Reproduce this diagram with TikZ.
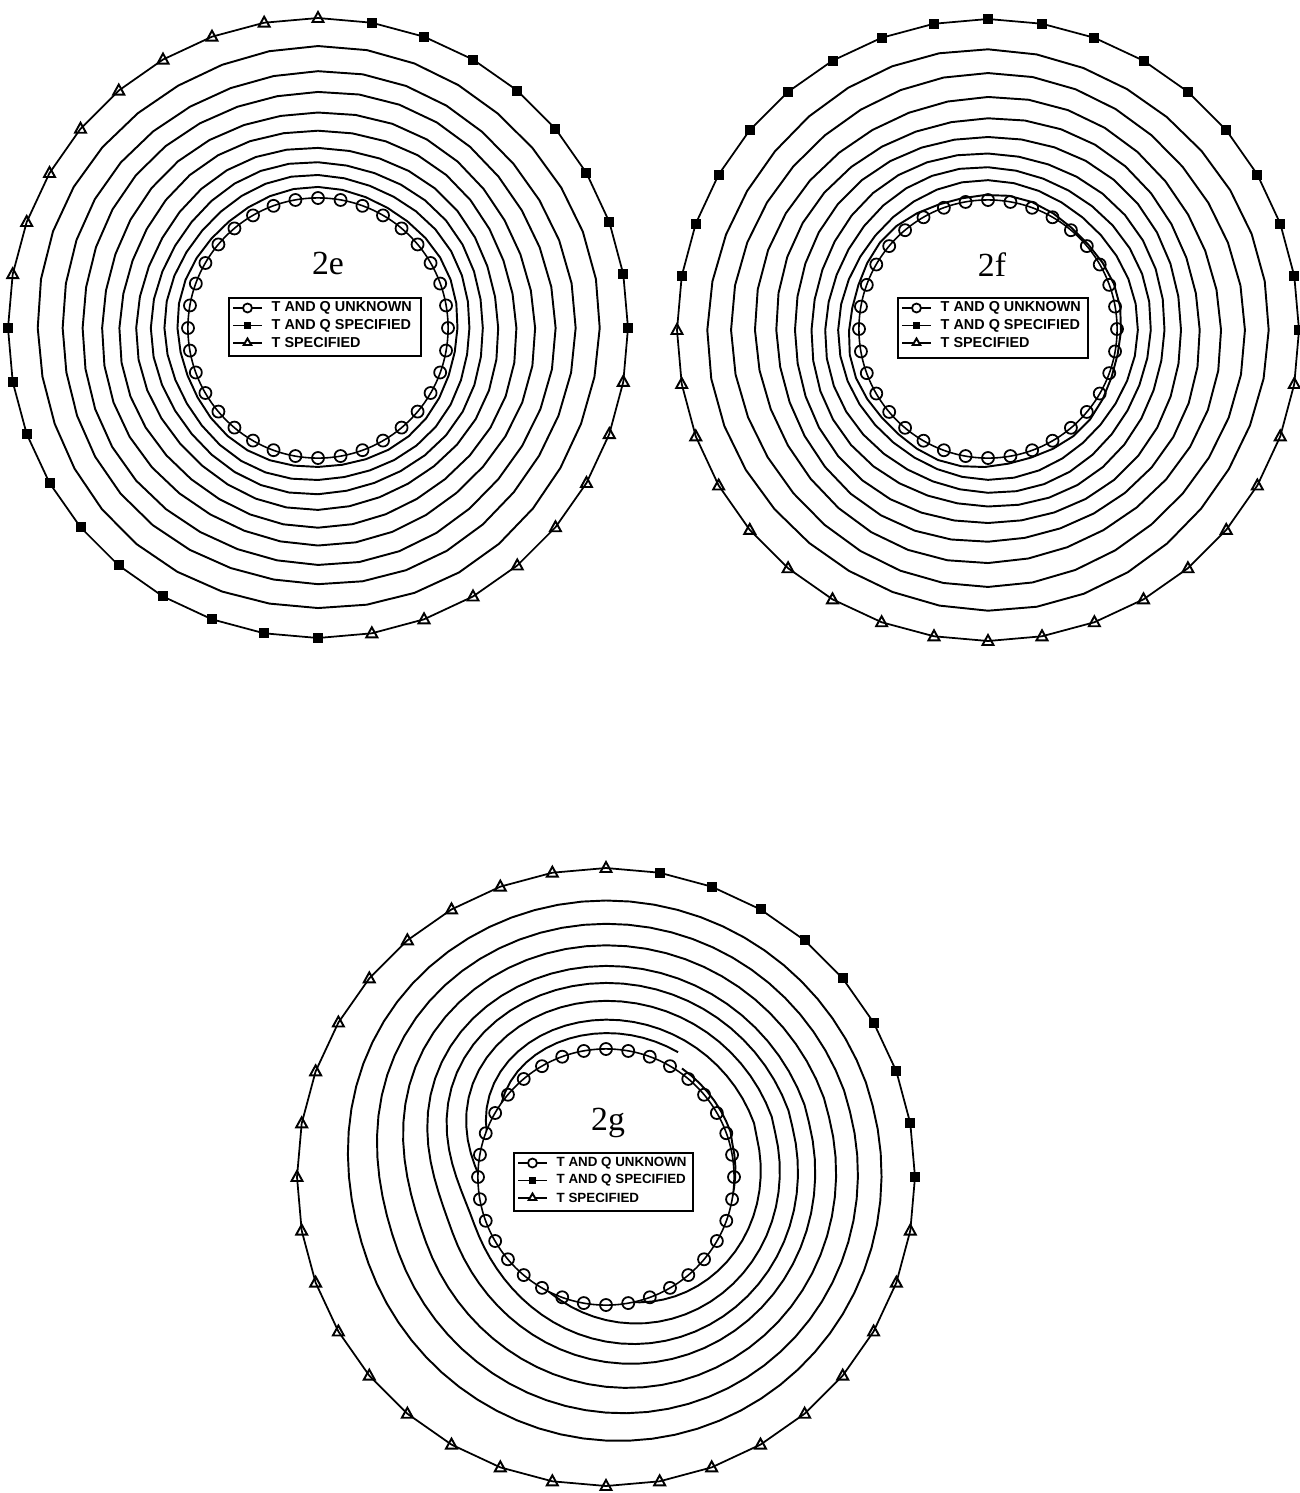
\documentclass[tikz,border=0pt]{standalone}
\usepackage{fontspec}
\setmainfont{Liberation Serif}
\newfontfamily\legfont{Liberation Sans}
\usetikzlibrary{calc}
\newcommand\mylegend[6]{% prefix, x, y, width(cm), height(cm), font size(pt)
  \node[legbox, minimum width=#4cm, minimum height=#5cm, anchor=north west] (#1box) at (#2,#3) {};
  \draw[legline] ($(#1box.north west)+(5,11)$) -- ++(29,0);
  \draw[cirmark, fill=white] ($(#1box.north west)+(19.5,11)$) circle[radius=0.045cm];
  \node[legtext, font=\legfont\bfseries\fontsize{#6}{5}\selectfont] (#1ta) at ($(#1box.north west)+(43,11)$) {T AND Q UNKNOWN};
  \draw[legline] ($(#1box.north west)+(5,28.5)$) -- ++(29,0);
  \fill ($(#1box.north west)+(16,25)$) rectangle ++(7,7);
  \node[legtext, font=\legfont\bfseries\fontsize{#6}{5}\selectfont] (#1tb) at ($(#1box.north west)+(43,28.5)$) {T AND Q SPECIFIED};
  \draw[legline] ($(#1box.north west)+(5,46)$) -- ++(29,0);
  \draw[trimark, fill=white] ($(#1box.north west)+(19.5,41.5)$) -- ++(3.8,6.5) -- ++(-7.6,0) -- cycle;
  \node[legtext, font=\legfont\bfseries\fontsize{#6}{5}\selectfont] (#1tc) at ($(#1box.north west)+(43,46)$) {T SPECIFIED};
}
\begin{document}
\begin{tikzpicture}[x=0.01cm,y=-0.01cm,
  contour/.style={line width=0.55pt, line join=round},
  outerb/.style={line width=0.5pt, line join=round},
  innerb/.style={line width=0.45pt},
  trimark/.style={line width=0.55pt, line join=miter},
  cirmark/.style={line width=0.5pt},
  legline/.style={line width=0.5pt},
  legbox/.style={draw, line width=0.65pt, inner sep=0pt},
  legtext/.style={inner sep=0pt, anchor=west},
  figlabel/.style={font=\fontsize{9.6}{11}\selectfont, inner sep=0pt},
  declare function={
    gd(\t)=mod(\t+340,360)-180;
    gs(\t)=45+45*(gd(\t)>0);
    gw(\t)=exp(-(gd(\t)/gs(\t))*(gd(\t)/gs(\t)));
    gr(\a,\t)=128+179*(\a-(0.44-0.37*\a)*gw(\t));
  }]
\fill[white] (0,0) rectangle (1299,1493);
\useasboundingbox (0,0) rectangle (1299,1493);

% ================= 2e =================
\foreach \r [count=\i] in {281,256.5,236.5,216.5,198.5,181,166,152.5,140}
  \draw[contour] plot[domain=0:360, samples=37]
    ({318+(\r+1.2*sin(5*\x+37*\i))*cos(\x)},{328-(\r+1.2*sin(5*\x+37*\i))*sin(\x)}) -- cycle;
\draw[outerb] plot[domain=0:360, samples=37] ({318+310*cos(\x)},{328-310*sin(\x)}) -- cycle;
\draw[innerb] (318,328) circle[radius=1.30cm];
\foreach \t in {0,10,...,350}
  \draw[cirmark] ({318+130*cos(\t)},{328-130*sin(\t)}) circle[radius=0.06cm];
\foreach \t in {0,10,...,80,180,190,...,270}
  \fill ({318+310*cos(\t)},{328-310*sin(\t)}) ++(-5,-5) rectangle ++(10,10);
\foreach \t in {90,100,...,170,280,290,...,350}
  \draw[trimark] ({318+310*cos(\t)},{328-310*sin(\t)}) ++(0,-6) -- ++(5.5,10) -- ++(-11,0) -- cycle;
\node[figlabel] (lab2e) at (328,263) {2e};
\mylegend{e}{228}{297}{1.92}{0.58}{4.1}

% ================= 2f =================
\foreach \r [count=\i] in {279.5,255.5,232.5,212.5,194.5,177.5,162.5,148.5}
  \draw[contour] plot[domain=0:360, samples=37]
    ({988+(\r+1.5*sin(4*\x+53*\i))*cos(\x)},{330-(\r+1.5*sin(4*\x+53*\i))*sin(\x)}) -- cycle;
\draw[contour] plot[domain=0:360, samples=37]
    ({985+(136+1.5*sin(6*\x))*cos(\x)},{331-(136+1.5*sin(6*\x))*sin(\x)}) -- cycle;
\draw[outerb] plot[domain=0:360, samples=37] ({988+311*cos(\x)},{330-311*sin(\x)}) -- cycle;
\draw[innerb] (988,329) circle[radius=1.29cm];
\foreach \t in {0,10,...,350}
  \draw[cirmark] ({988+129*cos(\t)},{329-129*sin(\t)}) circle[radius=0.06cm];
\foreach \t in {0,10,...,170}
  \fill ({988+311*cos(\t)},{330-311*sin(\t)}) ++(-5,-5) rectangle ++(10,10);
\foreach \t in {180,190,...,350}
  \draw[trimark] ({988+311*cos(\t)},{330-311*sin(\t)}) ++(0,-6) -- ++(5.5,10) -- ++(-11,0) -- cycle;
\node[figlabel] (lab2f) at (992,265) {2f};
\mylegend{f}{897}{297}{1.90}{0.60}{4.1}

% ================= 2g =================
\begin{scope}[even odd rule]
  \clip (606,1177) circle[radius=3.25cm] (606,1177) circle[radius=1.28cm];
  \foreach \a in {0.83,0.70,0.58,0.465,0.37,0.27,0.165}
    \draw[contour] plot[domain=0:360, samples=73]
      ({606+gr(\a,\x)*cos(\x)},{1177-gr(\a,\x)*sin(\x)}) -- cycle;
  \draw[contour] plot[domain=60:200, samples=29]
      ({606+gr(0.09,\x)*cos(\x)},{1177-gr(0.09,\x)*sin(\x)});
  \draw[contour] plot[domain=-160:55, samples=44]
      ({606+gr(0.025,\x)*cos(\x)},{1177-gr(0.025,\x)*sin(\x)});
\end{scope}
\draw[outerb] plot[domain=0:360, samples=37] ({606+309*cos(\x)},{1177-309*sin(\x)}) -- cycle;
\draw[innerb] (606,1177) circle[radius=1.28cm];
\foreach \t in {0,10,...,350}
  \draw[cirmark] ({606+128*cos(\t)},{1177-128*sin(\t)}) circle[radius=0.06cm];
\foreach \t in {0,10,...,80}
  \fill ({606+309*cos(\t)},{1177-309*sin(\t)}) ++(-5,-5) rectangle ++(10,10);
\foreach \t in {90,100,...,350}
  \draw[trimark] ({606+309*cos(\t)},{1177-309*sin(\t)}) ++(0,-6) -- ++(5.5,10) -- ++(-11,0) -- cycle;
\node[figlabel] (lab2g) at (608,1123) {2g};
\mylegend{g}{513}{1152}{1.79}{0.58}{3.8}
\end{tikzpicture}
\end{document}
